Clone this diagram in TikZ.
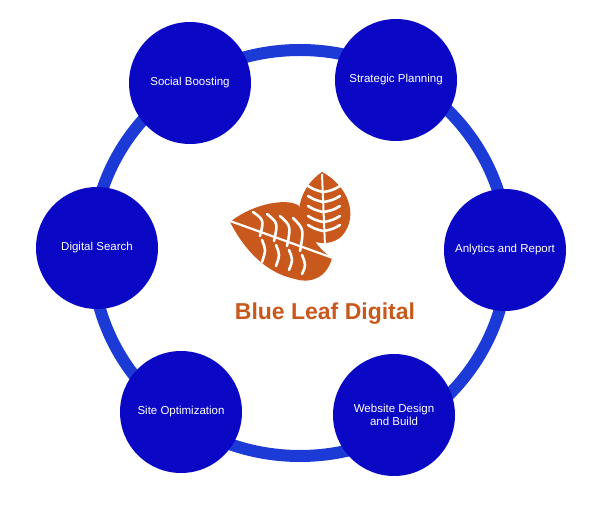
\documentclass[tikz,border=0pt]{standalone}
\usepackage{fontspec}
\setmainfont{Liberation Sans}
\definecolor{ring}{RGB}{28,58,214}
\definecolor{disc}{RGB}{10,8,196}
\definecolor{leaf}{RGB}{200,88,28}
\begin{document}
\begin{tikzpicture}[x=1pt,y=-1pt,
  disc/.style={circle,fill=disc,minimum size=122pt,inner sep=0pt,text=white,font=\fontsize{11.5}{13}\selectfont,align=center},
  rib/.style={white,line width=2.6pt,line cap=round}]
\useasboundingbox (0,0) rectangle (600,518);
\draw[ring,line width=12pt] (300,253) ellipse (208 and 203);
\node[disc] (sb) at (190,83) {Social Boosting};
\node[disc] (sp) at (396,80) {Strategic Planning};
\node[disc] (ar) at (505,250) {Anlytics and Report};
\node[disc] (wd) at (394,415) {Website Design\\and Build};
\node[disc] (so) at (181,412) {Site Optimization};
\node[disc] (ds) at (97,248) {Digital Search};
% right leaf
\fill[leaf] (322,172) .. controls (347,185) and (360,215) .. (342,236)
  .. controls (334,244) and (318,246) .. (307,238)
  .. controls (292,220) and (298,188) .. (322,172) -- cycle;
\draw[white,line width=2pt] (322,174) -- (325,246);
\foreach \y in {190,200,210,220,229}{
  \draw[rib] (308,\y-4) .. controls (315,\y) .. (323,\y+2);
  \draw[rib] (324,\y+2) .. controls (333,\y) .. (340,\y-4);}
% left leaf
\fill[leaf] (230,222) .. controls (255,202) and (290,198) .. (299,206)
  .. controls (306,225) and (312,245) .. (332,258)
  .. controls (327,278) and (310,284) .. (295,279)
  .. controls (262,272) and (242,245) .. (230,222) -- cycle;
\draw[white,line width=2.2pt] (230,221) -- (333,258);
\foreach \x/\d in {258/0,272/1,285/2,298/3}{
  \draw[rib] (\x-5,212+\d*2) .. controls (\x+6,220+\d*3) .. (\x+2,236+\d*5);
  \draw[rib] (\x+4,240+\d*5) .. controls (\x+8,250+\d*5) .. (\x+4,262+\d*4);}
\node[text=leaf,font=\bfseries\fontsize{23}{26}\selectfont] (logo) at (325,314) {Blue Leaf Digital};
\end{tikzpicture}
\end{document}
